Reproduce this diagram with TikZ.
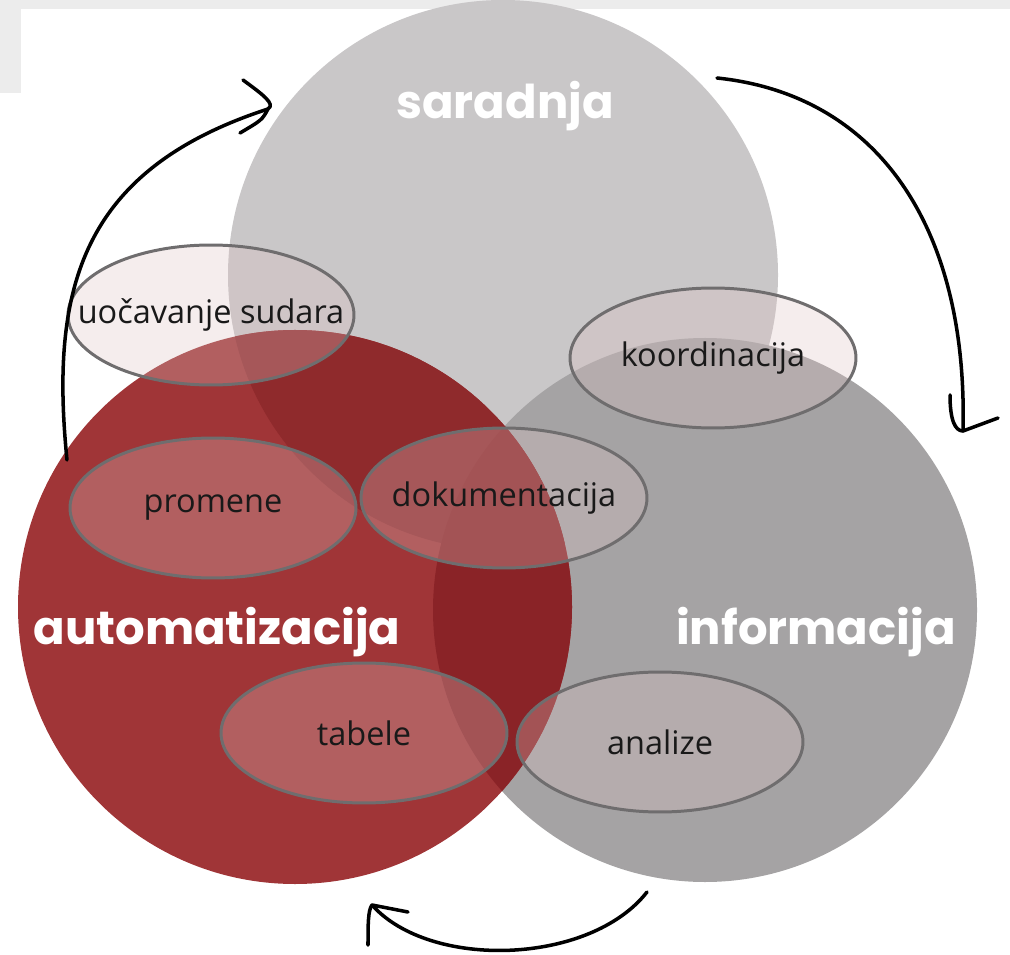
\documentclass[tikz,border=0pt]{standalone}
\usepackage{fontspec}
\setmainfont{Open Sans}
\newfontfamily\titlefont{Poppins}
\usetikzlibrary{shapes.geometric}
\definecolor{sarGray}{HTML}{C9C7C8}
\definecolor{infGray}{HTML}{A5A3A4}
\definecolor{autRed}{HTML}{A03537}
\definecolor{autRedSar}{HTML}{8F2A2C}
\definecolor{autRedInf}{HTML}{8A2327}
\definecolor{bubbleFill}{HTML}{DDC2C2}
\definecolor{bubbleLine}{HTML}{6F6D6E}
\definecolor{bgGray}{HTML}{ECECEC}
\def\bubbletext#1{\makebox[0pt]{#1}}
\tikzset{
  bubble/.style={ellipse, draw=bubbleLine, line width=1.7pt, fill=bubbleFill,
    fill opacity=0.3, text opacity=1, minimum width=5.72cm, minimum height=2.8cm,
    inner sep=0pt, font=\fontsize{18.5}{22}\selectfont, text=black!90},
  title/.style={text=white, font=\titlefont\bfseries\fontsize{26.5}{32}\selectfont, inner sep=0pt},
  cycle/.style={line width=2pt, line cap=round, line join=round}
}
\begin{document}
\begin{tikzpicture}[x=0.02cm, y=-0.02cm]
			%%%%% START %%%%%
			\useasboundingbox (0, 0) rectangle (1010, 955);
			
			\fill[bgGray] (0, 0) rectangle (1010, 9);
			\fill[bgGray] (0, 0) rectangle (21, 93);
			
			% circles
			\fill[sarGray] (503, 275) circle (275);
			\fill[infGray] (705, 610) circle (272);
			\fill[autRed] (295, 607) circle (277);
			\begin{scope}
				\clip (295, 607) circle (277);
				\fill[autRedSar] (503, 275) circle (275);
				\fill[autRedInf] (705, 610) circle (272);
			\end{scope}
			
			\node[title] (sar) at (505, 106) {saradnja};
			\node[title] (aut) at (217, 632) {automatizacija};
			\node[title] (inf) at (816, 632) {informacija};
			
			% bubbles
			\node[bubble] (sudar) at (211, 315) {\bubbletext{uočavanje sudara}};
			\node[bubble] (koord) at (713, 358) {\bubbletext{koordinacija}};
			\node[bubble] (prom) at (213, 508) {\bubbletext{promene}};
			\node[bubble] (dok) at (504, 498) {\bubbletext{dokumentacija}};
			\node[bubble] (tab) at (364, 733) {\bubbletext{tabele}};
			\node[bubble] (anal) at (660, 742) {\bubbletext{analize}};
			
			% cycle arrows
			\coordinate (l0) at (67, 460);
			\coordinate (l1) at (268, 109);
			\draw[cycle] (l0) .. controls (50, 290) and (80, 170) .. (l1);
			\draw[cycle] (243, 80) .. controls (262, 94) and (276, 104) .. (l1) .. controls (262, 120) .. (240, 133);
			
			\coordinate (r0) at (717, 78);
			\coordinate (r1) at (963, 431);
			\draw[cycle] (r0) .. controls (880, 95) and (968, 230) .. (r1);
			\draw[cycle] (950, 395) .. controls (950, 420) and (955, 431) .. (r1) -- (998, 418);
			
			\coordinate (b0) at (647, 892);
			\coordinate (b1) at (372, 905);
			\draw[cycle] (b0) .. controls (590, 965) and (430, 970) .. (b1);
			\draw[cycle] (368, 945) .. controls (368, 925) and (368, 910) .. (b1) -- (408, 912);
			
			%%%%% END %%%%%
\end{tikzpicture}
\end{document}
